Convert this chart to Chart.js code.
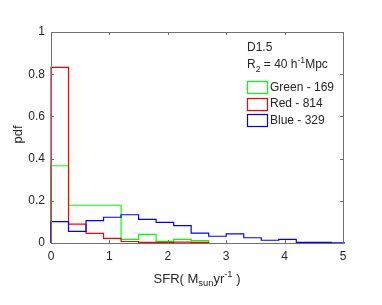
<!DOCTYPE html>
<html>
<head>
<meta charset="utf-8">
<script src="https://cdn.jsdelivr.net/npm/chart.js@4.4.0/dist/chart.umd.min.js"></script>
<style>
  html, body { margin: 0; padding: 0; background: #ffffff; }
  #wrap { width: 382px; height: 305px; }
</style>
</head>
<body>
<div id="wrap"><canvas id="chart" width="382" height="305"></canvas></div>
<script>
// histogram bin edges (SFR, Msun/yr), width 0.3
const binEdges = [0, 0.3, 0.6, 0.9, 1.2, 1.5, 1.8, 2.1, 2.4, 2.7, 3.0, 3.3, 3.6, 3.9, 4.2, 4.5, 4.8, 5.1];

// pdf values per bin
const greenPdf = [0.366, 0.179, 0.179, 0.179, 0.017, 0.041, 0.008, 0.017, 0.011];
const redPdf   = [0.832, 0.089, 0.046, 0.022, 0.007, 0.003, 0.003, 0.004, 0.003];
const bluePdf  = [0.101, 0.055, 0.106, 0.122, 0.134, 0.112, 0.098, 0.082, 0.047, 0.032, 0.043, 0.025, 0.013, 0.017, 0.003, 0.003, 0.001];

const xTicks = [0, 1, 2, 3, 4, 5];
const yTicks = [0, 0.2, 0.4, 0.6, 0.8, 1];

const seriesNames = ['Green - 169', 'Red - 814', 'Blue - 329'];
const seriesColors = ['#00ff00', '#ff0000', '#0000ff'];

// turn bin values into stair points (left edges, closed at the last edge)
function stairs(values) {
    const pts = [{ x: binEdges[0], y: 0 }];
    values.forEach((v, i) => pts.push({ x: binEdges[i], y: v }));
    pts.push({ x: binEdges[values.length], y: 0 });
    return pts;
}

const FONT = '"Liberation Sans", Arial, Helvetica, sans-serif';
const AXIS_COLOR = '#707070';
const TEXT_COLOR = '#262626';

// draws a row of text pieces, some of them sub- or superscript
function drawPieces(ctx, pieces, x, y, size) {
    let cx = x;
    pieces.forEach(p => {
        const s = p.shift ? size * 0.72 : size;
        ctx.font = s + 'px ' + FONT;
        const dy = p.shift === 'sub' ? size * 0.35 : p.shift === 'sup' ? -size * 0.38 : 0;
        ctx.fillText(p.t, cx, y + dy);
        cx += ctx.measureText(p.t).width;
    });
    return cx;
}
function piecesWidth(ctx, pieces, size) {
    let w = 0;
    pieces.forEach(p => {
        const s = p.shift ? size * 0.72 : size;
        ctx.font = s + 'px ' + FONT;
        w += ctx.measureText(p.t).width;
    });
    return w;
}

const boxPlugin = {
    id: 'matlabBox',
    afterDraw(chart) {
        const ctx = chart.ctx;
        const a = chart.chartArea;
        const xs = chart.scales.x, ys = chart.scales.y;
        ctx.save();
        ctx.strokeStyle = AXIS_COLOR;
        ctx.lineWidth = 1;
        ctx.beginPath();
        // box
        ctx.moveTo(a.left + 0.5, a.bottom + 0.5);
        ctx.lineTo(a.left + 0.5, a.top + 0.5);
        ctx.lineTo(a.right + 0.5, a.top + 0.5);
        ctx.lineTo(a.right + 0.5, a.bottom + 0.5);
        ctx.lineTo(a.left + 0.5, a.bottom + 0.5);
        // inward ticks
        const tl = 3;
        xTicks.forEach(v => {
            const px = Math.round(xs.getPixelForValue(v)) + 0.5;
            ctx.moveTo(px, a.bottom); ctx.lineTo(px, a.bottom - tl);
            ctx.moveTo(px, a.top); ctx.lineTo(px, a.top + tl);
        });
        yTicks.forEach(v => {
            const py = Math.round(ys.getPixelForValue(v)) + 0.5;
            ctx.moveTo(a.left, py); ctx.lineTo(a.left + tl, py);
            ctx.moveTo(a.right, py); ctx.lineTo(a.right - tl, py);
        });
        ctx.stroke();

        // axis titles
        ctx.fillStyle = TEXT_COLOR;
        ctx.textBaseline = 'middle';
        ctx.textAlign = 'left';
        const xt = [
            { t: 'SFR( M' }, { t: 'sun', shift: 'sub' }, { t: 'yr' }, { t: '-1', shift: 'sup' }, { t: ' )' }
        ];
        const w = piecesWidth(ctx, xt, 13);
        drawPieces(ctx, xt, (a.left + a.right) / 2 - w / 2, 279, 13);

        ctx.save();
        ctx.translate(18, (a.top + a.bottom) / 2 - 3);
        ctx.rotate(-Math.PI / 2);
        ctx.textAlign = 'center';
        ctx.font = '13px ' + FONT;
        ctx.fillText('pdf', 0, 0);
        ctx.restore();

        // annotation and legend
        const lx = 247;
        ctx.font = '12px ' + FONT;
        ctx.fillText('D1.5', lx, 48);
        drawPieces(ctx, [
            { t: 'R' }, { t: '2', shift: 'sub' }, { t: ' = 40 h' }, { t: '-1', shift: 'sup' }, { t: 'Mpc' }
        ], lx, 65, 12);

        const rowY = [87, 103.5, 120];
        seriesNames.forEach((name, i) => {
            ctx.strokeStyle = seriesColors[i];
            ctx.lineWidth = 1.2;
            ctx.strokeRect(lx + 0.5, Math.round(rowY[i] - 6) + 0.5, 20, 12);
            ctx.fillStyle = TEXT_COLOR;
            ctx.font = '12px ' + FONT;
            ctx.fillText(name, lx + 23, rowY[i] + 0.5);
        });
        ctx.restore();
    }
};

new Chart(document.getElementById('chart'), {
    type: 'line',
    data: {
        datasets: [
            { label: seriesNames[0], data: stairs(greenPdf), borderColor: seriesColors[0], order: 3 },
            { label: seriesNames[1], data: stairs(redPdf), borderColor: seriesColors[1], order: 2 },
            { label: seriesNames[2], data: stairs(bluePdf), borderColor: seriesColors[2], order: 1 }
        ].map(d => Object.assign(d, {
            stepped: true,
            borderWidth: 1.2,
            pointRadius: 0,
            fill: false,
            clip: 2
        }))
    },
    options: {
        responsive: false,
        animation: false,
        layout: { padding: { top: 32, right: 39, left: 0, bottom: 0 } },
        plugins: {
            legend: { display: false },
            tooltip: { enabled: false }
        },
        scales: {
            x: {
                type: 'linear',
                min: 0,
                max: 5,
                afterBuildTicks: s => { s.ticks = xTicks.map(v => ({ value: v })); },
                grid: { display: false, drawTicks: false },
                border: { display: false },
                ticks: {
                    color: TEXT_COLOR, font: { family: FONT, size: 12 }, padding: 6, maxRotation: 0,
                    callback: v => String(Math.round(v * 10) / 10)
                },
                afterFit: s => { s.height = 62; }
            },
            y: {
                min: 0,
                max: 1,
                afterBuildTicks: s => { s.ticks = yTicks.map(v => ({ value: v })); },
                grid: { display: false, drawTicks: false },
                border: { display: false },
                ticks: {
                    color: TEXT_COLOR, font: { family: FONT, size: 12 }, padding: 6,
                    callback: v => String(Math.round(v * 10) / 10)
                },
                afterFit: s => { s.width = 51; }
            }
        }
    },
    plugins: [boxPlugin]
});
</script>
</body>
</html>
